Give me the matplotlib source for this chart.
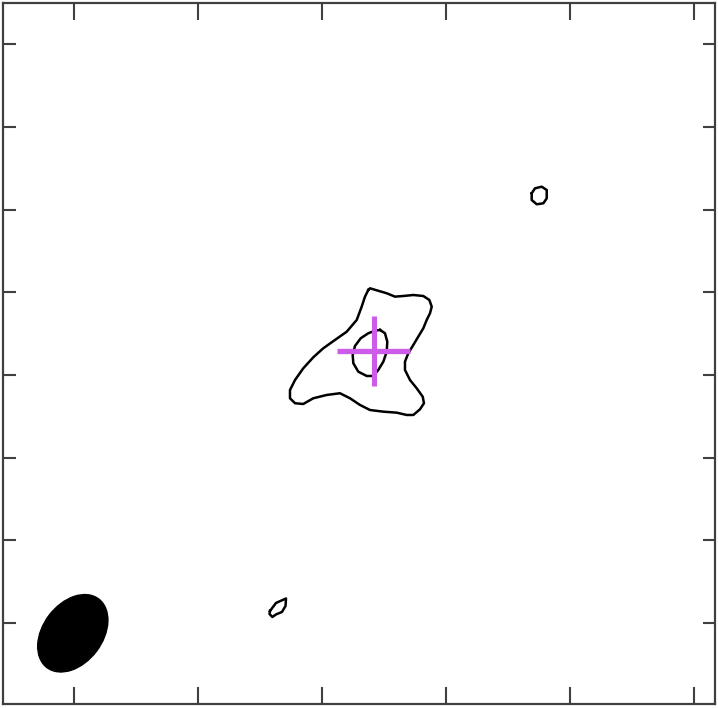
import numpy as np
import matplotlib
matplotlib.use('Agg')
import matplotlib.pyplot as plt
from matplotlib.patches import Ellipse

# offsets in arcsec from the map reference
outer_x = [5.58, 5.79, 6.76, 7.81, 8.81, 9.82, 11.03, 12.24, 12.97, 13.26,
           13.05, 12.65, 12.24, 11.63, 11.03, 10.42, 10.02, 10.02, 10.63, 11.44,
           12.17, 12.32, 11.84, 11.03, 10.23, 9.02, 7.40, 5.79, 4.58, 3.37,
           2.15, 0.54, -1.08, -2.29, -3.29, -3.90, -3.90, -3.29, -2.29, -1.08,
           0.13, 1.55, 2.97, 4.18, 4.78, 5.18]
outer_y = [10.29, 10.49, 10.20, 9.89, 9.48, 9.56, 9.68, 9.56, 9.08, 8.27,
           7.47, 6.66, 5.65, 4.64, 3.63, 2.63, 1.61, 0.61, -0.61, -1.61,
           -2.63, -3.42, -4.15, -4.84, -4.84, -4.56, -4.44, -4.24, -3.63, -2.82,
           -2.21, -2.42, -2.82, -3.51, -3.42, -2.82, -1.82, -0.61, 0.81, 2.14,
           3.23, 4.24, 5.24, 6.66, 8.27, 9.48]

inner_x = [7.00, 7.60, 7.88, 7.81, 7.40, 6.79, 6.19, 5.39, 4.37, 3.77,
           3.69, 3.97, 4.66, 5.58, 6.39]
inner_y = [5.45, 5.05, 4.03, 2.82, 1.61, 0.61, -0.12, -0.12, 0.40, 1.42,
           2.42, 3.51, 4.44, 5.05, 5.36]

blob_ne_x = [25.36, 25.76, 26.57, 27.18, 27.18, 26.77, 25.97, 25.36]
blob_ne_y = [21.99, 22.59, 22.79, 22.39, 21.38, 20.78, 20.66, 21.18]

blob_sw_x = [-6.32, -5.59, -4.38, -4.44, -4.87, -5.59, -6.03, -6.38]
blob_sw_y = [-28.56, -27.59, -27.05, -27.96, -28.68, -28.98, -29.29, -28.92]

# source position and its error bars
src_x, src_y = 6.23, 2.94
src_dx, src_dy = 4.43, 4.24

# synthesized beam
beam_x, beam_y = -30.19, -31.26
beam_major, beam_minor, beam_angle = 10.4, 7.2, 53.0

xticks = [-30, -15, 0, 15, 30, 45]
yticks = [-30, -20, -10, 0, 10, 20, 30, 40]

fig = plt.figure(figsize=(7.18, 7.08), dpi=100)
ax = fig.add_axes([3/718, 4/708, 711.5/718, 701/708])

for xs, ys in [(outer_x, outer_y), (inner_x, inner_y),
               (blob_ne_x, blob_ne_y), (blob_sw_x, blob_sw_y)]:
    ax.plot(xs + xs[:1], ys + ys[:1], color='black', lw=1.8, solid_joinstyle='round')

ax.add_patch(Ellipse((beam_x, beam_y), beam_major, beam_minor, angle=beam_angle,
                     facecolor='black', edgecolor='black'))

ax.plot([src_x - src_dx, src_x + src_dx], [src_y, src_y], color='#cc5be9', lw=3.8,
        solid_capstyle='butt')
ax.plot([src_x, src_x], [src_y - src_dy, src_y + src_dy], color='#cc5be9', lw=3.6,
        solid_capstyle='butt')

ax.set_xlim(-38.64, 47.49)
ax.set_ylim(-39.82, 45.02)
ax.set_xticks(xticks)
ax.set_yticks(yticks)
ax.set_xticklabels([])
ax.set_yticklabels([])
ax.tick_params(axis='x', direction='in', top=True, bottom=True, length=12.5,
               width=1.5, color='#404040')
ax.tick_params(axis='y', direction='in', left=True, right=True, length=9,
               width=1.5, color='#404040')
for s in ax.spines.values():
    s.set_linewidth(1.6)
    s.set_color('#404040')

fig.savefig('out.png', dpi=100)
